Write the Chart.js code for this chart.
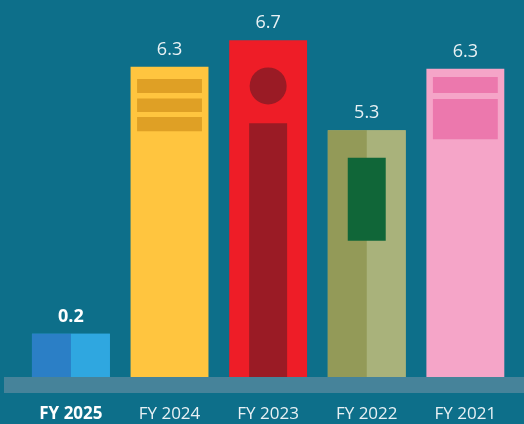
<!DOCTYPE html>
<html>
<head>
<meta charset="utf-8">
<script src="https://cdn.jsdelivr.net/npm/chart.js@4.4.1/dist/chart.umd.min.js"></script>
<style>
  html, body { margin: 0; padding: 0; background: #0d6f8a; }
  #wrap { width: 524px; height: 424px; }
</style>
</head>
<body>
<div id="wrap"><canvas id="chart" width="524" height="424"></canvas></div>
<script>
/* ─── Data ───────────────────────────────────────────────────────────────── */
const fiscalYears  = ['FY 2025', 'FY 2024', 'FY 2023', 'FY 2022', 'FY 2021'];
const shownValues  = [0.2, 6.3, 6.7, 5.3, 6.3];
// drawn bar heights
const barHeights   = [0.86, 6.17, 6.70, 4.91, 6.13];

// pictogram details, in the same units
const halfShade    = [0.86, null, null, 4.91, null];
const stripeA      = [null, [5.65, 5.93], null, null, [5.65, 5.97]];
const stripeB      = [null, [5.27, 5.54], null, null, [4.73, 5.53]];
const stripeC      = [null, [4.89, 5.17], null, null, null];
const innerRect    = [null, null, [0, 5.05], [2.71, 4.36], null];
const innerDot     = [null, null, 5.79, null, null];

/* ─── Colours ────────────────────────────────────────────────────────────── */
const BG       = '#0d6f8a';
const BAND     = '#46839a';
const mainCol  = ['#2fa7e0', '#ffc53f', '#ee1d27', '#a9b27b', '#f5a5c8'];
const darkHalf = ['#2b7fc6', null, null, '#939a58', null];
const stripeCol = [null, '#dfa025', null, null, '#ec78ad'];
const innerCol = [null, null, '#9a1b25', '#106638', null];

Chart.defaults.font.family = "'Open Sans', 'DejaVu Sans', sans-serif";

/* ─── Plugins ────────────────────────────────────────────────────────────── */
const baseBand = {
  id: 'baseBand',
  beforeDatasetsDraw(chart) {
    const { ctx, chartArea } = chart;
    ctx.save();
    ctx.fillStyle = BAND;
    ctx.fillRect(4, chartArea.bottom, chart.width - 4, 16);
    ctx.restore();
  }
};

const valueLabels = {
  id: 'valueLabels',
  afterDatasetsDraw(chart) {
    const { ctx, scales } = chart;
    ctx.save();
    ctx.textAlign = 'center';
    ctx.textBaseline = 'alphabetic';
    shownValues.forEach((v, i) => {
      const x = scales.x.getPixelForValue(i);
      const y = scales.y.getPixelForValue(barHeights[i]) - 12;
      ctx.font = (i === 0 ? 'bold ' : '') + "18px 'Open Sans'";
      ctx.fillStyle = i === 0 ? '#ffffff' : '#e8f1f4';
      ctx.fillText(v.toFixed(1), x, y);
    });
    ctx.restore();
  }
};

/* ─── Chart ──────────────────────────────────────────────────────────────── */
const floating = (data, colors, pct, order) => ({
  type: 'bar',
  data,
  backgroundColor: colors,
  borderWidth: 0,
  grouped: false,
  categoryPercentage: 1,
  barPercentage: pct,
  order
});

new Chart(document.getElementById('chart'), {
  type: 'bar',
  data: {
    labels: fiscalYears,
    datasets: [
      {
        label: 'main',
        data: barHeights,
        backgroundColor: mainCol,
        borderWidth: 0,
        grouped: false,
        categoryPercentage: 0.79,
        barPercentage: 1,
        order: 5
      },
      {
        label: 'left half',
        data: halfShade,
        backgroundColor: darkHalf,
        borderWidth: 0,
        categoryPercentage: 0.79,
        barPercentage: 1,
        order: 4
      },
      {
        label: 'right half',
        data: halfShade,
        backgroundColor: mainCol,
        borderWidth: 0,
        categoryPercentage: 0.79,
        barPercentage: 1,
        order: 4
      },
      floating(stripeA, stripeCol, 0.658, 2),
      floating(stripeB, stripeCol, 0.658, 2),
      floating(stripeC, stripeCol, 0.658, 2),
      floating(innerRect, innerCol, 0.385, 2),
      {
        type: 'line',
        data: innerDot,
        showLine: false,
        pointRadius: 18.5,
        pointBorderWidth: 0,
        pointBackgroundColor: '#9a1b25',
        order: 1
      }
    ]
  },
  options: {
    responsive: false,
    animation: false,
    events: [],
    layout: { autoPadding: false, padding: { left: 21.6, right: 8.6, top: 0, bottom: 0 } },
    plugins: { legend: { display: false }, tooltip: { enabled: false } },
    scales: {
      x: {
        grid: { display: false, drawTicks: false },
        border: { display: false },
        afterFit: s => { s.height = 47; },
        ticks: {
          padding: 27,
          color: ctx => ctx.index === 0 ? '#ffffff' : '#e8f1f4',
          font: ctx => ({ size: 17, weight: ctx.index === 0 ? 'bold' : 'normal' })
        }
      },
      y: {
        display: false,
        min: 0,
        max: 7.5
      }
    }
  },
  plugins: [baseBand, valueLabels]
});
</script>
</body>
</html>
